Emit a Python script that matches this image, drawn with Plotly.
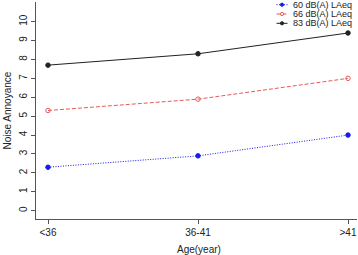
import plotly.graph_objects as go

categories = ["<36", "36-41", ">41"]
series_names = ["60 dB(A) LAeq", "66 dB(A) LAeq", "83 dB(A) LAeq"]
values_60 = [2.3, 2.9, 4.0]
values_66 = [5.3, 5.9, 7.0]
values_83 = [7.7, 8.3, 9.4]
y_ticks = list(range(0, 11))

styles = [
    dict(color="#1a1aee", dash="1px,1.5px", symbol="circle", fill=True),
    dict(color="#e85a5a", dash="4px,2px", symbol="circle-open", fill=False),
    dict(color="#222222", dash="solid", symbol="circle", fill=True),
]
series = [values_60, values_66, values_83]

W, H = 358, 255
ML, MR, MT, MB = 36, 1, 2, 36

fig = go.Figure()
x = list(range(len(categories)))
for name, vals, st in zip(series_names, series, styles):
    fig.add_trace(go.Scatter(
        x=x, y=vals, name=name, mode="lines+markers", showlegend=False,
        line=dict(color=st["color"], width=1, dash=st["dash"]),
        marker=dict(color=st["color"], size=4.5, symbol=st["symbol"], line=dict(width=1, color=st["color"]))))

# manual compact legend (paper coords computed from pixel layout)
pw, ph = W - ML - MR, H - MT - MB
def px_x(p):
    return (p - ML) / pw
def px_y(p):
    return 1 - (p - MT) / ph

shapes = []
annotations = []
row_y = [4.7, 14.0, 23.3]
for ry, name, st in zip(row_y, series_names, styles):
    shapes.append(dict(type="line", xref="paper", yref="paper",
                       x0=px_x(276.5), x1=px_x(287.5), y0=px_y(ry), y1=px_y(ry),
                       line=dict(color=st["color"], width=1, dash=st["dash"])))
    shapes.append(dict(type="circle", xref="paper", yref="paper",
                       x0=px_x(280.4), x1=px_x(283.6), y0=px_y(ry + 1.6), y1=px_y(ry - 1.6),
                       line=dict(color=st["color"], width=1),
                       fillcolor=st["color"] if st["fill"] else "white"))
    annotations.append(dict(text=name, xref="paper", yref="paper", x=px_x(290.5), y=px_y(ry),
                            xanchor="left", yanchor="middle", showarrow=False,
                            font=dict(size=9, color="#222222")))

font = "Liberation Sans, Arial, sans-serif"
annotations.append(dict(text="Age(year)", xref="paper", yref="paper", x=px_x(198.5), y=px_y(249),
                        xanchor="center", yanchor="middle", showarrow=False,
                        font=dict(size=10, color="#222222")))
annotations.append(dict(text="Noise Annoyance", xref="paper", yref="paper", x=px_x(7), y=0.5,
                        xanchor="center", yanchor="middle", showarrow=False, textangle=-90,
                        font=dict(size=10, color="#222222")))

fig.update_layout(
    width=W, height=H,
    margin=dict(l=ML, r=MR, t=MT, b=MB, autoexpand=False),
    paper_bgcolor="white", plot_bgcolor="white",
    font=dict(family=font, size=10, color="#222222"),
    showlegend=False,
    shapes=shapes, annotations=annotations,
    xaxis=dict(range=[-0.08, 2.06], tickmode="array", tickvals=x, ticktext=categories,
               showline=True, linecolor="#555555", linewidth=1, showgrid=False, zeroline=False,
               ticks="outside", ticklen=4, tickcolor="#555555", automargin=False,
               tickfont=dict(size=10)),
    yaxis=dict(range=[-0.44, 11.04], tickmode="array", tickvals=y_ticks,
               showline=True, linecolor="#555555", linewidth=1, showgrid=False, zeroline=False,
               ticks="outside", ticklen=4, tickcolor="#555555", tickangle=-90, automargin=False,
               tickfont=dict(size=10)),
)
fig.write_html("out.html", config={"displayModeBar": False},
               post_script="document.body.style.margin='0';document.body.style.overflow='hidden';")
